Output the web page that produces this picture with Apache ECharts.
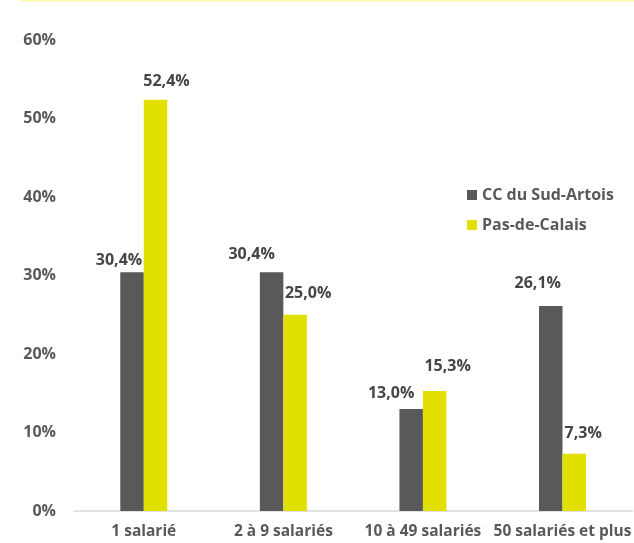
<!DOCTYPE html>
<html><head><meta charset="utf-8">
<script src="https://cdn.jsdelivr.net/npm/echarts@6/dist/echarts.min.js"></script>
<style>html,body{margin:0;padding:0;background:#fff}#c{width:634px;height:543px}</style>
</head><body><div id="c"></div>
<script>
const categories = ['1 salarié', '2 à 9 salariés', '10 à 49 salariés', '50 salariés et plus'];
const seriesNames = ['CC du Sud-Artois', 'Pas-de-Calais'];
const sudArtois = [30.4, 30.4, 13.0, 26.1];
const pasDeCalais = [52.4, 25.0, 15.3, 7.3];
const yTicks = [0, 10, 20, 30, 40, 50, 60];

// label placement (style only)
const darkLabelOffsets = [[-13, 1], [-20, -5], [-20, -3], [-13, -10]];
const yellowLabelOffsets = [[11, -5], [13, -8], [13, -11], [9, -7]];

const font = '"Open Sans", sans-serif';
const txt = '#595959';
const chart = echarts.init(document.getElementById('c'));
const fmt = p => p.value.toFixed(1).replace('.', ',') + '%';
const withOffsets = (vals, offs) => vals.map((v, i) => ({ value: v, label: { offset: offs[i] } }));
const labelStyle = { show: true, position: 'top', formatter: fmt, color: '#454545', fontWeight: 'bold', fontSize: 16, fontFamily: font };
chart.setOption({
  animation: false,
  textStyle: { fontFamily: font },
  graphic: [{ type: 'line', shape: { x1: 22, y1: 0.5, x2: 634, y2: 0.5 }, style: { stroke: '#fbf7a8', lineWidth: 2 } }],
  grid: { left: 74, right: -2, top: 40, bottom: 32 },
  legend: {
    orient: 'vertical', left: 462, top: 182, itemWidth: 10, itemHeight: 10, itemGap: 14,
    icon: 'rect',
    textStyle: { color: txt, fontWeight: 'bold', fontSize: 16, fontFamily: font },
    data: seriesNames
  },
  xAxis: {
    type: 'category', data: categories,
    axisLine: { lineStyle: { color: '#d9d9d9', width: 1.5 } },
    axisTick: { show: false },
    axisLabel: { color: txt, fontWeight: 'bold', fontSize: 15.5, margin: 13, interval: 0, fontFamily: font }
  },
  yAxis: {
    type: 'value', min: yTicks[0], max: yTicks[yTicks.length - 1], interval: 10,
    splitLine: { show: false },
    axisLine: { show: false }, axisTick: { show: false },
    axisLabel: { color: txt, fontWeight: 'bold', fontSize: 16, margin: 18, formatter: '{value}%', fontFamily: font }
  },
  series: [
    { name: seriesNames[0], type: 'bar', data: withOffsets(sudArtois, darkLabelOffsets), barWidth: 23.5, barGap: '0%',
      itemStyle: { color: '#595959' }, label: labelStyle },
    { name: seriesNames[1], type: 'bar', data: withOffsets(pasDeCalais, yellowLabelOffsets), barWidth: 23.5,
      itemStyle: { color: '#e2e000' }, label: labelStyle }
  ]
});
</script></body></html>
